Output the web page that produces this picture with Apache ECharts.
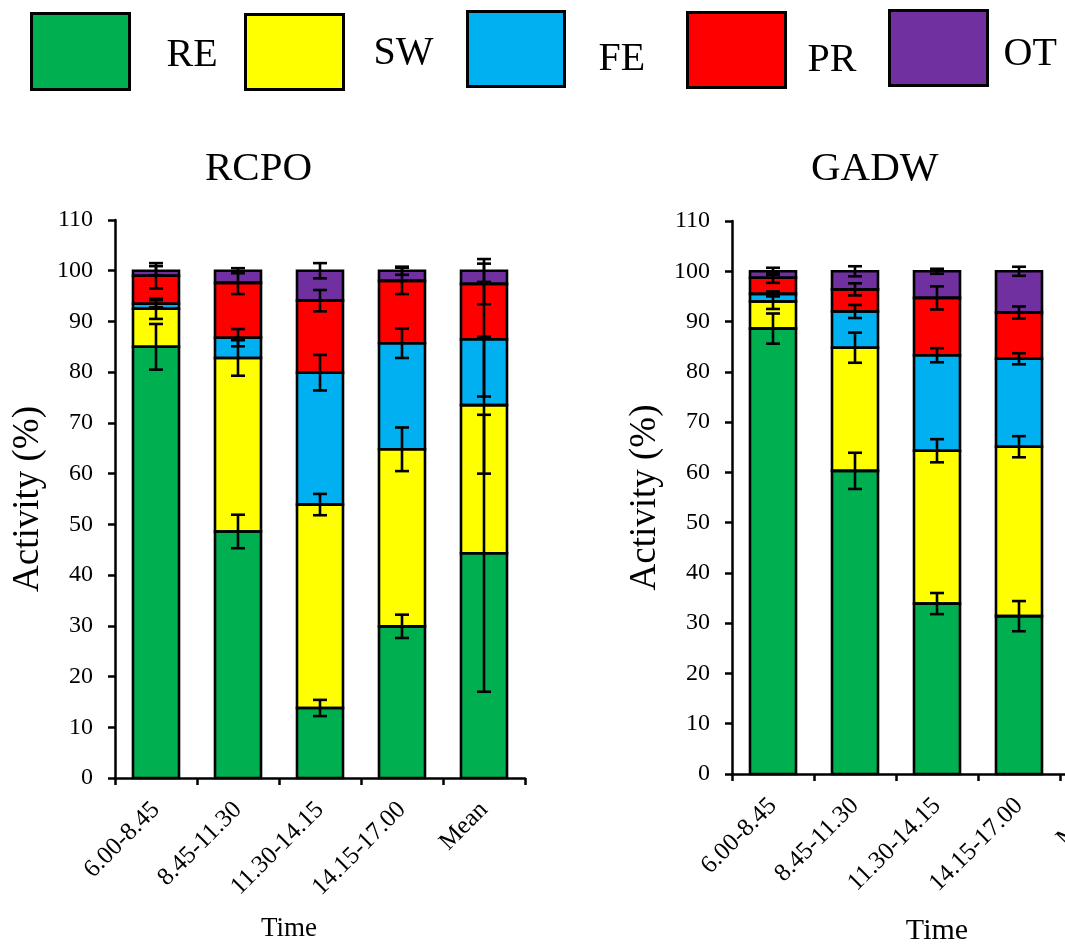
<!DOCTYPE html>
<html>
<head>
<meta charset="utf-8">
<script src="https://cdn.jsdelivr.net/npm/echarts@6/dist/echarts.min.js"></script>
<style>
  html, body { margin: 0; padding: 0; background: #ffffff; }
  #chart { width: 1065px; height: 944px; }
</style>
</head>
<body>
<div id="chart"></div>
<script>
// Time-of-day categories and behaviour codes
const categories = ['6.00-8.45', '8.45-11.30', '11.30-14.15', '14.15-17.00', 'Mean'];
const activities = ['RE', 'SW', 'FE', 'PR', 'OT'];
const yTicks = [0, 10, 20, 30, 40, 50, 60, 70, 80, 90, 100, 110];

// RCPO: share of activity (%) per time block
const rcpoRE = [85.0, 48.6, 13.8, 29.9, 44.3];
const rcpoSW = [7.5, 34.2, 40.1, 34.9, 29.2];
const rcpoFE = [1.0, 4.0, 26.0, 20.9, 13.0];
const rcpoPR = [5.5, 10.8, 14.2, 12.3, 10.9];
const rcpoOT = [1.0, 2.4, 5.9, 2.0, 2.6];
// RCPO: error (±) for each segment
const rcpoErrRE = [4.5, 3.3, 1.6, 2.3, 27.3];
const rcpoErrSW = [2.0, 3.5, 2.1, 4.3, 13.5];
const rcpoErrFE = [0.7, 1.7, 3.5, 2.9, 11.3];
const rcpoErrPR = [2.5, 2.2, 2.1, 2.6, 4.0];
const rcpoErrOT = [0.9, 0.5, 1.5, 0.8, 2.3];

// GADW: share of activity (%) per time block
const gadwRE = [88.6, 60.3, 33.9, 31.4, null];
const gadwSW = [5.4, 24.5, 30.4, 33.7, null];
const gadwFE = [1.5, 7.2, 19.0, 17.5, null];
const gadwPR = [3.2, 4.4, 11.4, 9.2, null];
const gadwOT = [1.3, 3.6, 5.3, 8.2, null];
// GADW: error (±) for each segment
const gadwErrRE = [3.0, 3.6, 2.1, 3.0, null];
const gadwErrSW = [1.5, 3.0, 2.3, 2.1, null];
const gadwErrFE = [0.5, 1.3, 1.4, 1.1, null];
const gadwErrPR = [1.0, 1.2, 2.3, 1.2, null];
const gadwErrOT = [0.7, 1.0, 0.5, 0.9, null];

const colors = { RE: '#00B050', SW: '#FFFF00', FE: '#00B0F0', PR: '#FF0000', OT: '#7030A0' };
const serif = 'Liberation Serif, Times New Roman, serif';
const BAR_W = 46;

const panels = [
  { title: 'RCPO', values: [rcpoRE, rcpoSW, rcpoFE, rcpoPR, rcpoOT],
    errors: [rcpoErrRE, rcpoErrSW, rcpoErrFE, rcpoErrPR, rcpoErrOT] },
  { title: 'GADW', values: [gadwRE, gadwSW, gadwFE, gadwPR, gadwOT],
    errors: [gadwErrRE, gadwErrSW, gadwErrFE, gadwErrPR, gadwErrOT] }
];

const inkStyle = { stroke: '#000', lineWidth: 2.6, fill: null };

// Black outline around one stacked segment (value row: [category, bottom, top, err])
function renderOutline(params, api) {
  const lo = api.coord([api.value(0), api.value(1)]);
  const hi = api.coord([api.value(0), api.value(2)]);
  return {
    type: 'rect',
    shape: { x: lo[0] - BAR_W / 2, y: hi[1], width: BAR_W, height: lo[1] - hi[1] },
    style: inkStyle
  };
}

// Vertical error bar with caps, drawn at the top of a stacked segment
function renderErrorBar(params, api) {
  const x = api.value(0), top = api.value(2), e = api.value(3);
  const hi = api.coord([x, top + e]);
  const lo = api.coord([x, top - e]);
  const cx = hi[0], w = 7;
  return {
    type: 'group',
    children: [
      { type: 'line', shape: { x1: cx, y1: hi[1], x2: cx, y2: lo[1] }, style: inkStyle },
      { type: 'line', shape: { x1: cx - w, y1: hi[1], x2: cx + w, y2: hi[1] }, style: inkStyle },
      { type: 'line', shape: { x1: cx - w, y1: lo[1], x2: cx + w, y2: lo[1] }, style: inkStyle }
    ]
  };
}

const series = [];
panels.forEach((p, gi) => {
  const running = categories.map(() => 0);
  const rows = [];
  p.values.forEach((vals, si) => {
    const name = activities[si];
    series.push({
      name, type: 'bar', stack: p.title, xAxisIndex: gi, yAxisIndex: gi,
      barWidth: BAR_W, data: vals,
      itemStyle: { color: colors[name], borderWidth: 0 },
      emphasis: { disabled: true }, z: 2
    });
    vals.forEach((v, ci) => {
      if (v == null) return;
      const bottom = running[ci];
      running[ci] += v;
      rows.push([ci, bottom, running[ci], p.errors[si][ci]]);
    });
  });
  series.push({
    name: p.title + ' outline', type: 'custom', xAxisIndex: gi, yAxisIndex: gi,
    renderItem: renderOutline, data: rows, encode: { x: 0, y: 2 }, z: 5, silent: true
  });
  series.push({
    name: p.title + ' error', type: 'custom', xAxisIndex: gi, yAxisIndex: gi,
    renderItem: renderErrorBar, data: rows, encode: { x: 0, y: 2 }, z: 10, silent: true
  });
});

// One legend block per activity so each box sits at its own spot
const legendSpots = [
  { name: 'RE', left: 30, top: 12, w: 98, h: 76, dy: 8, dx: 32 },
  { name: 'SW', left: 244, top: 13, w: 98, h: 75, dy: 2, dx: 25 },
  { name: 'FE', left: 466, top: 10, w: 97, h: 75, dy: 20, dx: 29 },
  { name: 'PR', left: 686, top: 11, w: 98, h: 75, dy: 20, dx: 17 },
  { name: 'OT', left: 888, top: 9, w: 98, h: 75, dy: 12, dx: 11 }
];
const legends = legendSpots.map(s => ({
  data: [s.name], left: s.left, top: s.top, padding: 0,
  itemWidth: s.w, itemHeight: s.h, icon: 'rect', selectedMode: false,
  itemStyle: { borderColor: '#000', borderWidth: 3 },
  formatter: '{t|{name}}',
  textStyle: {
    fontFamily: serif, fontSize: 40, color: '#000',
    rich: { t: { fontFamily: serif, fontSize: 40, color: '#000', padding: [s.dy, 0, 0, s.dx] } }
  }
}));

const grids = [
  { left: 115, top: 220, width: 410, height: 558, outerBoundsMode: 'none' },
  { left: 732, top: 221, width: 410, height: 553, outerBoundsMode: 'none' }
];

const xAxes = grids.map((g, gi) => ({
  type: 'category', gridIndex: gi, data: categories,
  axisLine: { lineStyle: { color: '#000', width: 2.5 } },
  axisTick: { show: true, length: 7, lineStyle: { color: '#000', width: 2.5 } },
  axisLabel: { interval: 0, rotate: 45, margin: 28, color: '#000', fontFamily: serif, fontSize: 25 },
  name: 'Time', nameLocation: 'middle', nameGap: gi === 0 ? 137 : 142,
  nameTextStyle: gi === 0
    ? { fontFamily: serif, fontSize: 27, color: '#000', padding: [0, 62, 0, 0] }
    : { fontFamily: serif, fontSize: 30, color: '#000' }
}));

const yAxes = grids.map((g, gi) => ({
  type: 'value', gridIndex: gi, min: yTicks[0], max: yTicks[yTicks.length - 1], interval: 10,
  splitLine: { show: false },
  axisLine: { show: true, lineStyle: { color: '#000', width: 2.5 } },
  axisTick: { show: true, length: 7, lineStyle: { color: '#000', width: 2.5 } },
  axisLabel: { margin: 22, color: '#000', fontFamily: serif, fontSize: 24 },
  name: 'Activity (%)', nameLocation: 'middle', nameRotate: 90, nameGap: 68,
  nameTextStyle: { fontFamily: serif, fontSize: 37, color: '#000' }
}));

const titles = [
  { text: 'RCPO', left: 205, top: 149, padding: 0, textStyle: { fontFamily: serif, fontSize: 41, fontWeight: 'normal', color: '#000' } },
  { text: 'GADW', left: 811, top: 149, padding: 0, textStyle: { fontFamily: serif, fontSize: 41, fontWeight: 'normal', color: '#000' } }
];

const chart = echarts.init(document.getElementById('chart'), null, { renderer: 'canvas' });
chart.setOption({
  backgroundColor: '#ffffff',
  animation: false,
  title: titles,
  legend: legends,
  grid: grids,
  xAxis: xAxes,
  yAxis: yAxes,
  series
});
</script>
</body>
</html>
